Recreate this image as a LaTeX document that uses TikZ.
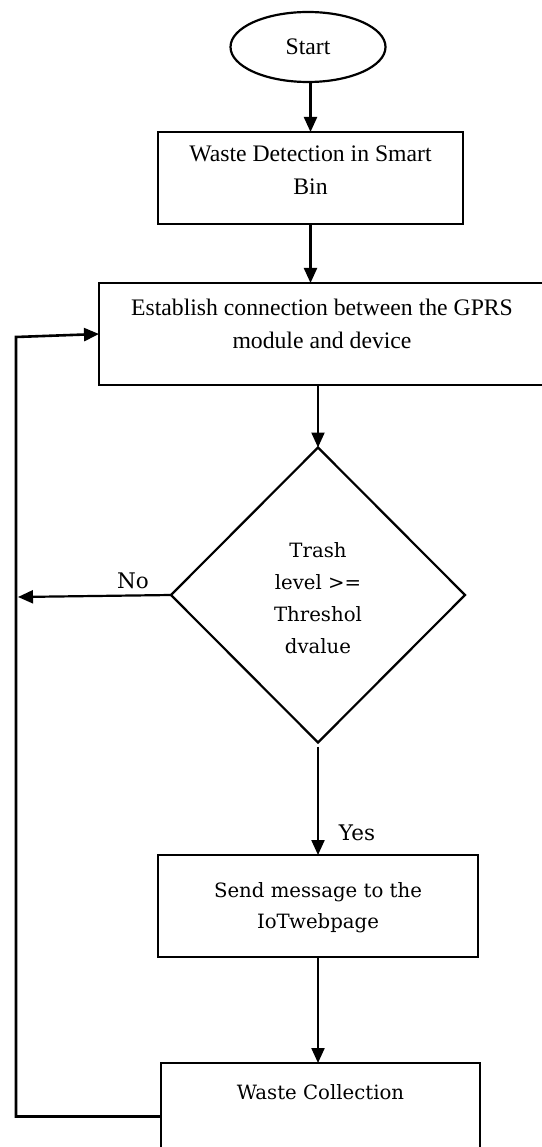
\documentclass[tikz,border=0pt]{standalone}
\usepackage{fontspec}
\setmainfont{Liberation Serif}
\newfontfamily\cambfont{DejaVu Serif}
\usetikzlibrary{shapes.geometric,arrows.meta}
\begin{document}
\begin{tikzpicture}[x=1pt,y=-1pt,
  every node/.style={inner sep=0pt, outer sep=0pt},
  arr/.style={line width=2.2pt, -{Triangle[length=15pt,width=13pt]}},
  loopline/.style={line width=2.6pt, -{Triangle[length=15pt,width=13pt]}},
  tfont/.style={font=\fontsize{23.7}{33}\selectfont},
  cfont/.style={font=\cambfont\fontsize{19.7}{31}\selectfont},
  tbox/.style={draw, line width=2.6pt, rectangle, align=center, tfont},
  cbox/.style={draw, line width=2.6pt, rectangle, align=center, cfont},
  lbl/.style={font=\cambfont\fontsize{21.5}{25}\selectfont},
]
\useasboundingbox (0,0) rectangle (541,1147);

\node[draw, ellipse, line width=2.2pt, minimum width=155pt, minimum height=70pt, tfont] (start) at (308,47) {Start};

\node[tbox, minimum width=305pt, text height=63pt, text depth=29pt] (waste) at (310.5,178) {Waste Detection in Smart\\Bin};

\node[tbox, minimum width=446pt, text height=65pt, text depth=37pt] (estab) at (322,334) {Establish connection between the GPRS\\module and device};

\node[draw, diamond, line width=2.2pt, minimum width=294pt, minimum height=295pt, align=center,
      font=\cambfont\fontsize{19.7}{32}\selectfont, text height=116pt, text depth=0pt] (dia) at (318,595) {Trash\\level >=\\Threshol\\dvalue};

\node[cbox, minimum width=320pt, text height=73pt, text depth=29pt] (send) at (318,906) {Send message to the\\IoTwebpage};

\node[cbox, minimum width=319pt, text height=36pt, text depth=71pt] (coll) at (320.5,1116.5) {Waste Collection};

\node[lbl] (no) at (133,581) {No};
\node[lbl] (yes) at (357,833) {Yes};

\coordinate (noend) at (18,597);
\coordinate (lb) at (16,1116.5);
\coordinate (lt) at (16,337);

\draw[arr] (start.south -| waste.north) -- (waste.north);
\draw[arr] (waste.south) -- (estab.north -| waste.south);
\draw[arr] (estab.south -| dia.north) -- (dia.north);
\draw[arr] (dia.west) -- (noend);
\draw[arr] ([yshift=-4pt]dia.south) -- (send.north);
\draw[arr] (send.south) -- (coll.north -| send.south);
\draw[loopline] (coll.west) -- (lb) -- (lt) -- (estab.west);
\end{tikzpicture}
\end{document}
